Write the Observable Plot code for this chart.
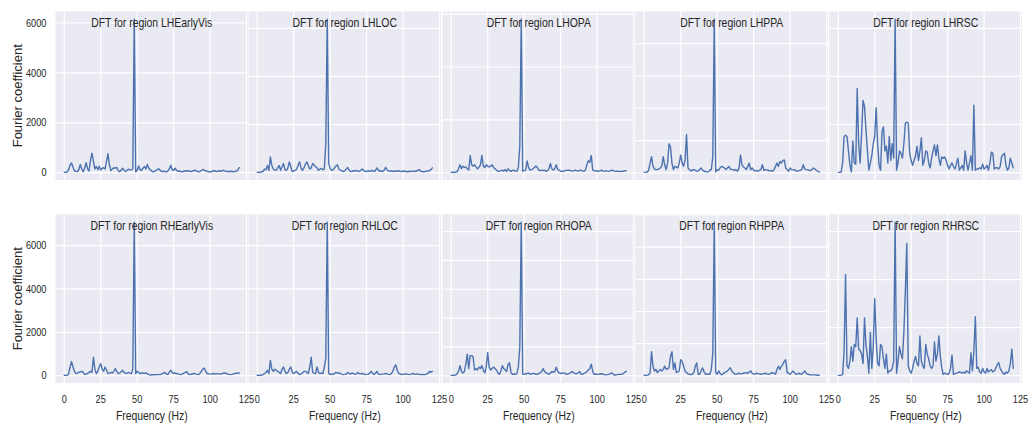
<!DOCTYPE html>
<html>
<head>
<meta charset="utf-8">
<script src="https://cdn.jsdelivr.net/npm/d3@7"></script>
<script src="https://cdn.jsdelivr.net/npm/@observablehq/plot@0.6"></script>
<style>
  body { margin: 0; background: #ffffff; }
  #chart { position: relative; width: 1031px; height: 426px; overflow: hidden;
           font-family: "Liberation Sans", Arial, sans-serif; }
  #chart svg { position: absolute; overflow: visible; }
</style>
</head>
<body>
<div id="chart"></div>
<script>
// Regions, in panel order (left hemisphere on top, right hemisphere below)
const regions = ["LHEarlyVis", "LHLOC", "LHOPA", "LHPPA", "LHRSC",
                 "RHEarlyVis", "RHLOC", "RHOPA", "RHPPA", "RHRSC"];

// Frequency bins, 1 Hz apart
const frequencies = d3.range(0, 121);

// Tick labels
const xTicks = [0, 25, 50, 75, 100, 125];
const yTickSteps = [2000, 2000, 2000, 1000, 2000, 2000, 2000, 1000, 1000, 2000];

// Fourier coefficient per frequency bin, one array per region
const lhEarlyVis = [
  20,15,30,120,300,390,220,80,60,50,
  120,330,150,40,200,400,150,60,500,780,
  450,150,250,120,260,110,180,200,150,450,
  760,300,90,150,200,180,210,90,40,100,
  180,110,50,90,140,120,110,150,6150,40,
  100,270,120,100,180,250,150,330,180,120,
  60,30,60,90,140,150,80,50,60,50,
  40,60,150,300,120,100,180,100,60,70,
  50,40,60,80,70,80,60,50,70,90,
  100,60,40,50,90,130,100,70,60,40,
  30,50,70,80,60,50,70,80,60,100,
  70,60,40,50,60,50,40,50,60,100,
  200];
const lhLOC = [
  20,15,20,40,60,150,120,300,100,650,
  300,150,120,100,200,300,100,250,380,120,
  100,200,450,250,50,80,100,150,300,450,
  200,100,200,350,450,300,150,200,380,320,
  250,200,100,150,180,120,150,1200,6380,400,
  180,100,120,200,280,330,150,100,80,50,
  80,150,220,100,50,60,80,70,100,60,
  50,100,150,90,60,50,80,60,70,100,
  50,80,200,120,60,80,50,100,220,120,
  70,60,80,50,60,70,60,80,60,50,
  60,70,50,40,60,50,60,60,50,70,
  90,130,60,50,40,50,60,70,90,120,
  200];
const lhOPA = [
  20,15,20,20,40,150,300,150,250,200,
  220,150,100,650,300,250,300,220,150,200,
  300,650,250,200,300,250,220,250,300,200,
  150,100,60,50,80,100,60,120,50,150,
  80,50,90,100,60,50,200,1000,5810,60,
  80,100,450,200,100,120,150,200,250,200,
  100,80,100,80,100,50,80,150,350,150,
  100,150,300,120,100,50,60,50,80,100,
  90,100,80,60,70,100,80,60,90,100,
  60,50,100,300,450,400,650,100,80,60,
  80,50,70,100,60,50,80,60,50,70,
  100,80,60,50,60,50,40,60,50,80,
  70];
const lhPPA = [
  20,15,20,80,300,500,200,120,100,100,
  120,150,200,500,250,100,300,900,800,300,
  100,200,180,150,300,550,300,200,400,1180,
  150,100,60,80,100,80,50,60,100,150,
  80,50,40,30,30,80,100,500,4760,30,
  100,80,150,200,180,150,100,150,200,120,
  100,100,80,100,50,150,550,250,180,150,
  100,200,300,100,150,80,60,70,50,80,
  100,250,80,100,90,80,60,70,50,100,
  200,300,200,350,300,380,400,150,100,50,
  150,100,90,100,60,50,70,80,100,250,
  120,100,90,80,70,100,150,120,80,50,
  20];
const lhRSC = [
  10,10,20,400,1500,1550,1500,900,300,30,
  1300,400,350,3500,1200,400,1600,3000,2750,1800,
  900,100,400,700,1200,1500,2700,1200,300,100,
  1700,1900,900,1100,400,1500,500,1200,600,6380,
  100,400,900,800,600,1200,2050,2100,2050,800,
  500,300,500,700,1100,500,900,1450,300,500,
  900,850,400,200,600,900,1150,700,1150,600,
  300,650,600,650,500,300,150,300,400,250,
  150,350,600,100,200,300,100,900,400,100,
  400,700,100,2800,100,150,150,200,150,350,
  150,200,300,100,400,850,800,150,200,200,
  150,250,650,750,800,300,100,200,600,400,
  200];
const rhEarlyVis = [
  20,15,20,80,400,650,400,200,100,120,
  150,180,200,150,50,80,100,150,200,150,
  850,300,100,200,400,550,300,200,400,250,
  100,120,150,120,200,330,200,100,120,180,
  250,150,100,120,150,120,100,300,7080,100,
  200,150,100,120,130,100,130,80,50,30,
  40,50,40,50,60,50,50,80,120,150,
  80,50,150,250,150,100,130,100,80,60,
  50,80,120,150,180,80,50,70,90,100,
  80,60,50,100,200,300,350,200,100,80,
  70,80,100,90,80,90,80,70,90,110,
  130,100,80,60,50,60,80,100,110,130,
  120];
const rhLOC = [
  20,15,20,30,50,100,150,250,100,700,
  300,200,300,250,200,150,100,300,400,200,
  100,150,300,400,150,100,150,200,100,50,
  80,120,200,200,150,100,400,850,150,120,
  100,400,150,100,120,100,400,800,7080,100,
  50,80,50,100,150,120,130,100,60,50,
  60,80,150,100,80,120,100,60,80,150,
  90,80,100,80,50,60,70,100,200,120,
  50,100,200,80,50,60,70,80,100,80,
  60,50,100,200,400,500,250,100,80,50,
  60,70,80,70,50,60,80,100,60,70,
  80,60,50,60,50,50,70,100,200,150,
  200];
const rhOPA = [
  20,15,20,30,80,150,350,150,100,150,
  400,750,250,700,700,650,200,250,200,300,
  250,350,200,100,300,800,300,200,250,300,
  250,200,100,50,150,350,250,200,150,400,
  450,100,50,60,50,80,300,1000,5325,60,
  50,70,80,100,50,60,80,70,60,50,
  80,100,150,250,150,100,80,50,100,150,
  120,150,300,150,100,80,90,100,80,50,
  60,80,120,150,100,80,70,100,150,60,
  50,80,100,150,200,250,400,150,50,60,
  50,50,60,70,60,40,30,40,50,70,
  100,60,20,30,40,50,50,50,80,120,
  150];
const rhPPA = [
  20,15,20,30,100,750,300,150,200,100,
  150,200,150,200,300,200,220,250,600,750,
  200,400,100,120,150,500,450,300,150,100,
  60,50,40,50,100,300,400,50,50,150,
  250,120,50,60,50,50,200,700,4778,100,
  50,150,80,30,60,100,120,150,200,250,
  150,100,60,50,60,80,60,70,80,90,
  100,80,120,150,80,50,60,80,70,60,
  50,60,70,80,60,50,60,80,100,80,
  50,200,300,200,300,350,450,500,100,80,
  50,100,150,100,50,60,80,60,50,100,
  150,80,50,40,30,30,30,30,25,20,
  20];
const rhRSC = [
  10,10,20,50,1000,4200,400,300,600,1200,
  600,1300,1200,2400,1100,1050,900,500,2400,1300,
  800,100,1800,300,1200,3200,1500,500,400,1300,
  1200,700,300,900,100,200,200,300,600,6390,
  100,600,1200,900,700,1800,3500,5500,400,200,
  100,300,600,800,500,400,1650,600,400,300,
  1300,900,700,400,300,400,1400,600,900,1650,
  800,300,50,100,80,50,100,300,850,50,
  80,100,120,150,130,100,150,100,200,150,
  100,950,200,1000,2450,300,350,150,100,300,
  150,100,300,150,200,250,150,200,300,450,
  550,300,200,100,50,150,100,200,500,1100,
  300];

const series = [lhEarlyVis, lhLOC, lhOPA, lhPPA, lhRSC,
                rhEarlyVis, rhLOC, rhOPA, rhPPA, rhRSC];

// Grid layout of the small multiples
const panelW = 192.5, panelH = 168.5;
const colLeft = [54.5, 248, 441.5, 635, 828.5];
const rowTop = [11, 214];
const mL = 55, mR = 15, mT = 11, mB = 44;

const ink = "#262626";
const chart = document.getElementById("chart");

regions.forEach((name, k) => {
  const row = Math.floor(k / 5), col = k % 5;
  const values = series[k];
  const data = frequencies.map((f, i) => ({f, v: values[i]}));

  // matplotlib-style 5% margins around the data range
  const [fLo, fHi] = d3.extent(frequencies);
  const fPad = (fHi - fLo) * 0.05;
  const [vLo, vHi] = d3.extent(values);
  const vPad = (vHi - vLo) * 0.05;
  const yTicks = d3.range(0, vHi + vPad, yTickSteps[k]);

  const marks = [
    Plot.frame({fill: "#EAEAF2", stroke: null}),
    Plot.gridX(xTicks, {stroke: "#ffffff", strokeOpacity: 1, strokeWidth: 1.2}),
    Plot.gridY(yTicks, {stroke: "#ffffff", strokeOpacity: 1, strokeWidth: 1.2}),
    Plot.lineY(data, {x: "f", y: "v", stroke: "#4C72B0", strokeWidth: 1.4}),
    Plot.text([`DFT for region ${name}`],
      {frameAnchor: "top", dy: 6, fontSize: 13, fill: ink})
  ];
  if (row === 1) {
    marks.push(Plot.axisX({ticks: xTicks, tickSize: 0, tickPadding: 12, fontSize: 11.5,
                           tickFormat: d => String(d), label: null}));
    marks.push(Plot.text(["Frequency (Hz)"],
      {frameAnchor: "bottom", dy: 36.5, fontSize: 13, fill: ink}));
  }
  if (col === 0) {
    marks.push(Plot.axisY({ticks: yTicks, tickSize: 0, tickPadding: 9, fontSize: 11.5,
                           tickFormat: d => String(d), label: null}));
    marks.push(Plot.text(["Fourier coefficient"],
      {frameAnchor: "left", textAnchor: "middle", rotate: -90, dx: -38,
       fontSize: 13, fill: ink}));
  }

  const svg = Plot.plot({
    width: panelW + mL + mR,
    height: panelH + mT + mB,
    marginLeft: mL, marginRight: mR, marginTop: mT, marginBottom: mB,
    x: {domain: [fLo - fPad, fHi + fPad], axis: null},
    y: {domain: [vLo - vPad, vHi + vPad], axis: null},
    style: {background: "transparent", color: ink, overflow: "visible",
            fontFamily: "'Liberation Sans', Arial, sans-serif"},
    marks
  });
  svg.style.left = (colLeft[col] - mL) + "px";
  svg.style.top = (rowTop[row] - mT) + "px";
  chart.appendChild(svg);
});

// Horizontal text is set in a condensed width, as in the original figure
chart.querySelectorAll("text").forEach(t => {
  if ((t.getAttribute("transform") || "").includes("rotate")) return;
  const len = t.getComputedTextLength();
  if (len > 0) {
    t.setAttribute("textLength", (len * 0.8).toFixed(1));
    t.setAttribute("lengthAdjust", "spacingAndGlyphs");
  }
});
</script>
</body>
</html>
